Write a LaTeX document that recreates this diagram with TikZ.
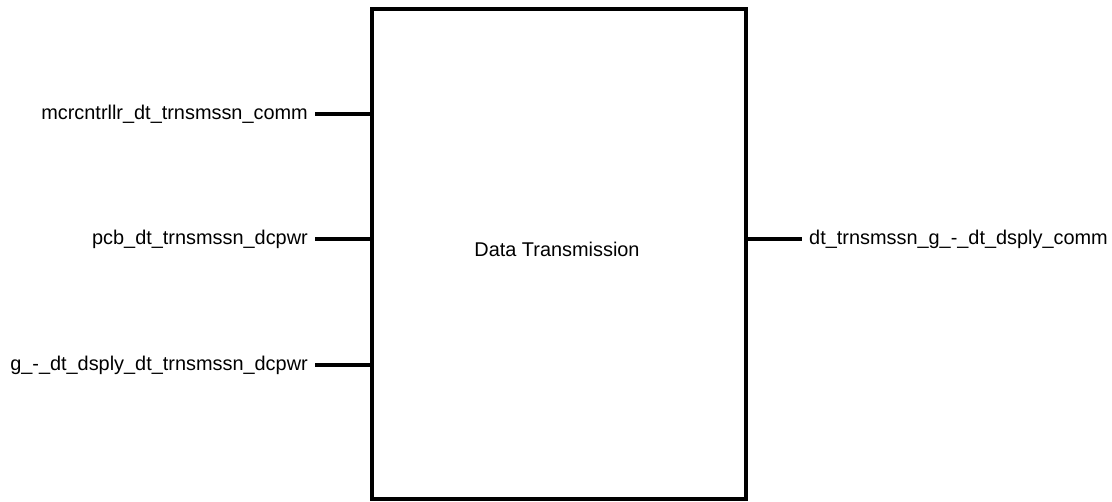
\documentclass[tikz,border=0pt]{standalone}
\usepackage{fontspec}
\setmainfont{Liberation Sans}
\begin{document}
\begin{tikzpicture}[x=1pt,y=-1pt,
  wire/.style={line width=4pt},
  lbl/.style={font=\fontsize{19.9}{22}\selectfont, inner sep=0pt},
  blk/.style={draw, line width=4pt, minimum width=374.5pt, minimum height=489.5pt, inner sep=0pt}]
\useasboundingbox (0,0) rectangle (1112,502);
\node[blk] (box) at (558.75,254.25) {};
\node[lbl] (title) at (557,249) {Data Transmission};
\coordinate (i1) at (371.5,114.5);
\coordinate (i2) at (371.5,239);
\coordinate (i3) at (371.5,365);
\coordinate (o1) at (746,239);
\coordinate (s1) at (315,114.5);
\coordinate (s2) at (315,239);
\coordinate (s3) at (315,365);
\coordinate (e1) at (802,239);
\draw[wire] (s1) -- (i1);
\draw[wire] (s2) -- (i2);
\draw[wire] (s3) -- (i3);
\draw[wire] (o1) -- (e1);
\node[lbl, anchor=east] (l1) at (308,114.5) {mcrcntrllr\_dt\_trnsmssn\_comm};
\node[lbl, anchor=east] (l2) at (308,239) {pcb\_dt\_trnsmssn\_dcpwr};
\node[lbl, anchor=east] (l3) at (308,365) {g\_-\_dt\_dsply\_dt\_trnsmssn\_dcpwr};
\node[lbl, anchor=west] (r1) at (809,239) {dt\_trnsmssn\_g\_-\_dt\_dsply\_comm};
\end{tikzpicture}
\end{document}
